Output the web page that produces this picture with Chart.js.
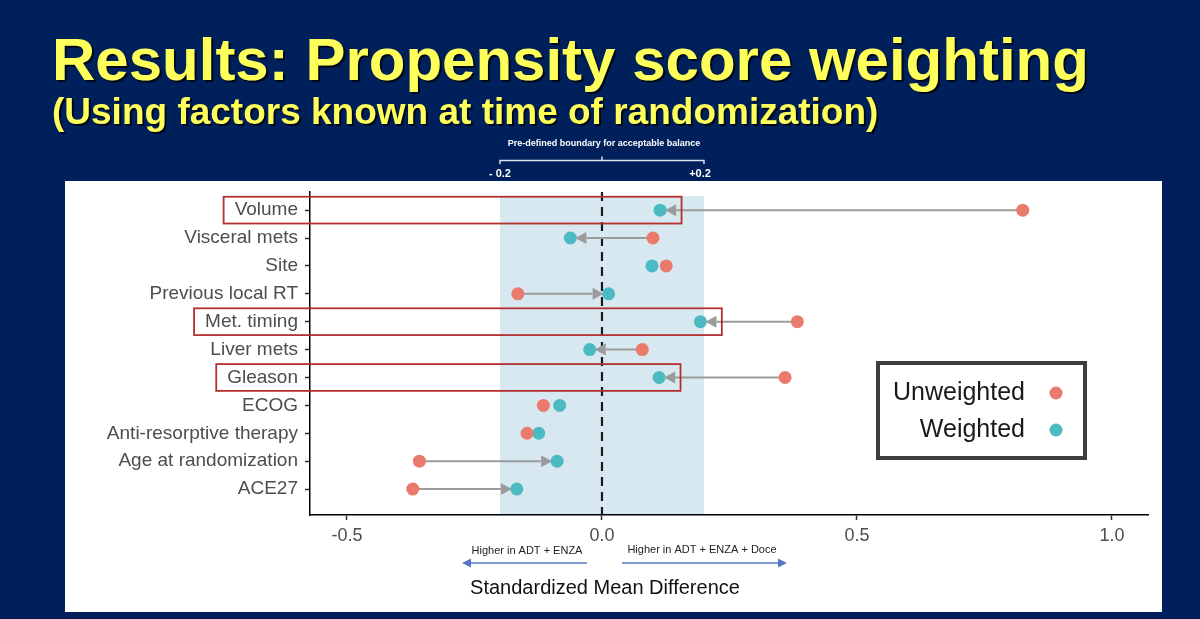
<!DOCTYPE html>
<html>
<head>
<meta charset="utf-8">
<script src="https://cdn.jsdelivr.net/npm/chart.js@4.4.0/dist/chart.umd.min.js"></script>
<style>
  html, body { margin: 0; padding: 0; background: #00205b; }
  #wrap { position: relative; width: 1200px; height: 619px; }
</style>
</head>
<body>
<div id="wrap"><canvas id="smdChart" width="1200" height="619"></canvas></div>
<script>
// covariates, top to bottom
const covariates = [
  "Volume",
  "Visceral mets",
  "Site",
  "Previous local RT",
  "Met. timing",
  "Liver mets",
  "Gleason",
  "ECOG",
  "Anti-resorptive therapy",
  "Age at randomization",
  "ACE27",
];
const unweighted = [0.825, 0.100, 0.126, -0.165, 0.383, 0.079, 0.359, -0.115, -0.147, -0.358, -0.371];
const weighted = [0.114, -0.062, 0.098, 0.013, 0.193, -0.024, 0.112, -0.083, -0.124, -0.088, -0.167];
const xTicks = [-0.5, 0.0, 0.5, 1.0];
const balanceBounds = [-0.2, 0.2];
const highlighted = ["Volume", "Met. timing", "Gleason"];

const FONT = '"Liberation Sans", Arial, sans-serif';
const RED = "#ea7b6c";
const TEAL = "#4cbac3";

function arrow(ctx, x1, y1, x2, y2, head, half) {
  // line from (x1,y1) with filled head whose tip is at (x2,y2)
  const dir = Math.sign(x2 - x1);
  ctx.beginPath();
  ctx.moveTo(x1, y1);
  ctx.lineTo(x2 - dir * head, y2);
  ctx.stroke();
  ctx.beginPath();
  ctx.moveTo(x2, y2);
  ctx.lineTo(x2 - dir * head, y2 - half);
  ctx.lineTo(x2 - dir * head, y2 + half);
  ctx.closePath();
  ctx.fill();
}

const slidePlugin = {
  id: "slide",
  beforeDraw(chart) {
    const ctx = chart.ctx;
    const xs = chart.scales.x, ys = chart.scales.y;
    const area = chart.chartArea;
    ctx.save();
    ctx.fillStyle = "#00205b";
    ctx.fillRect(0, 0, chart.width, chart.height);

    // titles
    ctx.fillStyle = "#ffff5b";
    ctx.shadowColor = "rgba(0,0,0,0.7)";
    ctx.shadowOffsetX = 2;
    ctx.shadowOffsetY = 2;
    ctx.textAlign = "left";
    ctx.textBaseline = "alphabetic";
    ctx.font = "bold 60px " + FONT;
    ctx.fillText("Results: Propensity score weighting", 52, 80);
    ctx.font = "bold 37px " + FONT;
    ctx.fillText("(Using factors known at time of randomization)", 52, 124);
    ctx.shadowColor = "transparent";

    // white panel
    ctx.fillStyle = "#ffffff";
    ctx.fillRect(65, 181, 1097, 431);

    // acceptable balance band
    const b0 = xs.getPixelForValue(balanceBounds[0]);
    const b1 = xs.getPixelForValue(balanceBounds[1]);
    ctx.fillStyle = "#d8e8f0";
    ctx.fillRect(b0, ys.getPixelForValue(0.5), b1 - b0, area.bottom - ys.getPixelForValue(0.5) - 1);

    // bracket above the panel
    const mid = (b0 + b1) / 2;
    ctx.strokeStyle = "#dde3ec";
    ctx.lineWidth = 1.5;
    ctx.beginPath();
    ctx.moveTo(b0, 164); ctx.lineTo(b0, 160.5); ctx.lineTo(b1, 160.5); ctx.lineTo(b1, 164);
    ctx.moveTo(mid, 160.5); ctx.lineTo(mid, 156.5);
    ctx.stroke();
    ctx.fillStyle = "#ffffff";
    ctx.textAlign = "center";
    ctx.textBaseline = "middle";
    ctx.font = "bold 9px " + FONT;
    ctx.fillText("Pre-defined boundary for acceptable balance", mid + 2, 144);
    ctx.font = "bold 11px " + FONT;
    ctx.fillText("- 0.2", b0, 174);
    ctx.fillText("+0.2", b1 - 4, 174);
    ctx.restore();
  },
  beforeDatasetsDraw(chart) {
    const ctx = chart.ctx;
    const xs = chart.scales.x, ys = chart.scales.y;
    const area = chart.chartArea;
    ctx.save();
    // zero line
    const x0 = xs.getPixelForValue(0);
    ctx.strokeStyle = "#1a1a1a";
    ctx.lineWidth = 2.2;
    ctx.setLineDash([9, 6]);
    ctx.beginPath();
    ctx.moveTo(x0, area.top);
    ctx.lineTo(x0, area.bottom);
    ctx.stroke();
    ctx.setLineDash([]);

    // change arrows unweighted -> weighted
    ctx.strokeStyle = "#9b9b9b";
    ctx.fillStyle = "#9b9b9b";
    ctx.lineWidth = 2;
    covariates.forEach((c, i) => {
      const xa = xs.getPixelForValue(unweighted[i]);
      const xb = xs.getPixelForValue(weighted[i]);
      const y = ys.getPixelForValue(i + 1);
      if (Math.abs(xb - xa) < 22) return;
      const dir = Math.sign(xb - xa);
      arrow(ctx, xa, y, xb - dir * 5, y, 11, 6);
    });
    ctx.restore();
  },
  afterDraw(chart) {
    const ctx = chart.ctx;
    const xs = chart.scales.x, ys = chart.scales.y;
    ctx.save();

    // highlight boxes
    const step = ys.getPixelForValue(2) - ys.getPixelForValue(1);
    const labelRight = chart.chartArea.left - 12;
    ctx.font = "19px " + FONT;
    ctx.strokeStyle = "#b3302f";
    ctx.lineWidth = 1.8;
    highlighted.forEach((name) => {
      const i = covariates.indexOf(name);
      const y = ys.getPixelForValue(i + 1);
      const left = labelRight - ctx.measureText(name).width - 11;
      const right = xs.getPixelForValue(weighted[i] + 0.042);
      ctx.strokeRect(left, y - step * 0.48, right - left, step * 0.96);
    });

    // legend
    ctx.fillStyle = "#ffffff";
    ctx.fillRect(878, 363, 207, 95);
    ctx.strokeStyle = "#3d3d3d";
    ctx.lineWidth = 4;
    ctx.strokeRect(878, 363, 207, 95);
    ctx.font = "25px " + FONT;
    ctx.textAlign = "right";
    ctx.textBaseline = "middle";
    chart.data.datasets.forEach((ds, k) => {
      const y = 393 + k * 37;
      ctx.fillStyle = "#1a1a1a";
      ctx.fillText(ds.label, 1025, y);
      ctx.fillStyle = ds.backgroundColor;
      ctx.beginPath();
      ctx.arc(1056, y, 6.5, 0, Math.PI * 2);
      ctx.fill();
    });

    // direction hints and axis title
    const x0 = xs.getPixelForValue(0);
    ctx.textAlign = "center";
    ctx.fillStyle = "#222";
    ctx.font = "11px " + FONT;
    ctx.fillText("Higher in ADT + ENZA", x0 - 75, 551);
    ctx.fillText("Higher in ADT + ENZA + Doce", x0 + 100, 550);
    ctx.strokeStyle = "#5577c4";
    ctx.fillStyle = "#5577c4";
    ctx.lineWidth = 1.5;
    arrow(ctx, x0 - 15, 563, x0 - 140, 563, 9, 4.5);
    arrow(ctx, x0 + 20, 563, x0 + 185, 563, 9, 4.5);
    ctx.fillStyle = "#111";
    ctx.font = "20px " + FONT;
    ctx.fillText("Standardized Mean Difference", x0 + 3, 588);
    ctx.restore();
  },
};

const ctx = document.getElementById("smdChart").getContext("2d");

new Chart(ctx, {
  type: "scatter",
  data: {
    datasets: [
      {
        label: "Unweighted",
        data: covariates.map((c, i) => ({ x: unweighted[i], y: i + 1 })),
        backgroundColor: RED,
        borderWidth: 0,
        pointRadius: 6.5,
        pointHoverRadius: 6.5,
      },
      {
        label: "Weighted",
        data: covariates.map((c, i) => ({ x: weighted[i], y: i + 1 })),
        backgroundColor: TEAL,
        borderWidth: 0,
        pointRadius: 6.5,
        pointHoverRadius: 6.5,
      },
    ],
  },
  options: {
    responsive: false,
    animation: false,
    events: [],
    layout: { padding: { top: 192, right: 52, bottom: 0, left: 0 } },
    scales: {
      x: {
        type: "linear",
        min: -0.5725,
        max: 1.0706,
        afterBuildTicks: (s) => { s.ticks = xTicks.map((v) => ({ value: v })); },
        afterFit: (s) => { s.height = 104; },
        grid: { drawOnChartArea: false, color: "#333", tickLength: 5, tickWidth: 1.5 },
        border: { color: "#000", width: 1.5 },
        ticks: {
          color: "#4d4d4d",
          padding: 5,
          font: { size: 18, family: FONT },
          callback: (v) => v.toFixed(1),
        },
      },
      y: {
        type: "linear",
        reverse: true,
        min: 0.35,
        max: 11.93,
        afterBuildTicks: (s) => { s.ticks = covariates.map((c, i) => ({ value: i + 1 })); },
        afterFit: (s) => { s.width = 310; },
        grid: { drawOnChartArea: false, color: "#333", tickLength: 5, tickWidth: 1.5 },
        border: { color: "#000", width: 1.5 },
        ticks: {
          color: "#4d4d4d",
          padding: 7,
          font: { size: 19, family: FONT },
          callback: (v) => covariates[v - 1],
        },
      },
    },
    plugins: {
      legend: { display: false },
      tooltip: { enabled: false },
    },
  },
  plugins: [slidePlugin],
});
</script>
</body>
</html>
